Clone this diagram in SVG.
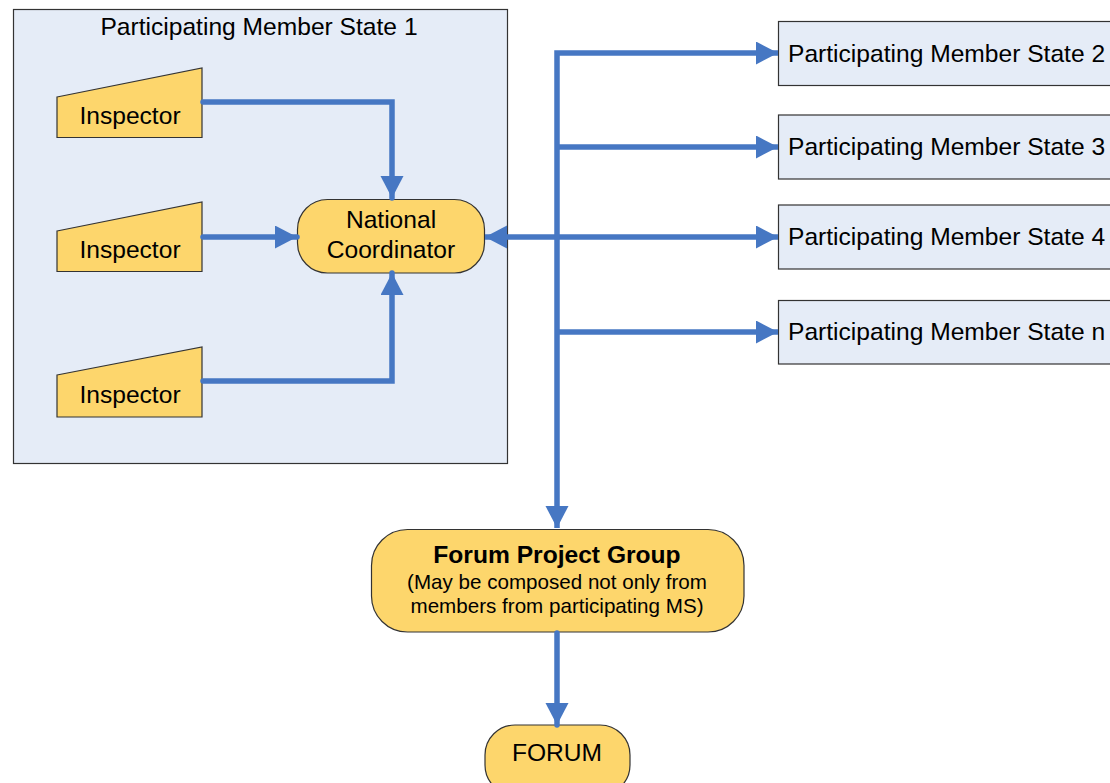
<svg xmlns="http://www.w3.org/2000/svg" width="1110" height="783" viewBox="0 0 1110 783">
<style>
text{font-family:"Liberation Sans",Arial,sans-serif;font-size:24.6px;fill:#000}
.c{text-anchor:middle}
.state{fill:#E5ECF7;stroke:#333;stroke-width:1.2}
.yel{fill:#FDD66C;stroke:#333;stroke-width:1.2}
.con{fill:none;stroke:#4677C3;stroke-width:5.5}
</style>
<defs>
<marker id="ah" markerUnits="userSpaceOnUse" markerWidth="24" markerHeight="24" viewBox="0 0 24 24" refX="22" refY="11.5" orient="auto-start-reverse">
<path d="M0,0 L22,11.5 L0,23 Z" fill="#4677C3"/>
</marker>
</defs>
<g id="pms1">
<rect class="state" x="13.5" y="9.5" width="494" height="454"/>
<text class="c" x="259" y="35">Participating Member State 1</text>
</g>
<g id="inspector1">
<polygon class="yel" points="57,97 202,68 202,137.5 57,137.5"/>
<text class="c" x="130" y="124">Inspector</text>
</g>
<g id="inspector2">
<polygon class="yel" points="57,231 202,202 202,271.5 57,271.5"/>
<text class="c" x="130" y="258">Inspector</text>
</g>
<g id="inspector3">
<polygon class="yel" points="57,375 202,347 202,417 57,417"/>
<text class="c" x="130" y="403">Inspector</text>
</g>
<g id="national-coordinator">
<rect class="yel" x="297.5" y="199.5" width="187" height="73.5" rx="30"/>
<text class="c" x="391" y="228">National</text>
<text class="c" x="391" y="258">Coordinator</text>
</g>
<g id="pms2">
<rect class="state" x="778.5" y="21.5" width="340" height="64"/>
<text x="788" y="62">Participating Member State 2</text>
</g>
<g id="pms3">
<rect class="state" x="778.5" y="115" width="340" height="64"/>
<text x="788" y="155">Participating Member State 3</text>
</g>
<g id="pms4">
<rect class="state" x="778.5" y="205" width="340" height="64"/>
<text x="788" y="245">Participating Member State 4</text>
</g>
<g id="pmsn">
<rect class="state" x="778.5" y="300.5" width="340" height="63.5"/>
<text x="788" y="340">Participating Member State n</text>
</g>
<g id="forum-project-group">
<rect class="yel" x="371.5" y="529.5" width="372.5" height="102.5" rx="36"/>
<text class="c" x="557" y="563" font-weight="bold">Forum Project Group</text>
<text class="c" x="557" y="589" style="font-size:20.6px">(May be composed not only from</text>
<text class="c" x="557" y="613" style="font-size:20.6px">members from participating MS)</text>
</g>
<g id="forum">
<rect class="yel" x="485" y="725" width="145" height="70" rx="30"/>
<text class="c" x="557" y="761">FORUM</text>
</g>
<g id="connectors">
<path class="con" stroke-linecap="round" d="M203,102 H392 V198" marker-end="url(#ah)"/>
<path class="con" stroke-linecap="round" d="M203,237 H297" marker-end="url(#ah)"/>
<path class="con" stroke-linecap="round" d="M203,381 H392 V273" marker-end="url(#ah)"/>
<path class="con" d="M485,237 H778" marker-start="url(#ah)" marker-end="url(#ah)"/>
<path class="con" d="M557,528 V53 H778" marker-start="url(#ah)" marker-end="url(#ah)"/>
<path class="con" d="M557,147 H778" marker-end="url(#ah)"/>
<path class="con" d="M557,332 H778" marker-end="url(#ah)"/>
<path class="con" stroke-linecap="round" d="M557,633 V725" marker-end="url(#ah)"/>
</g>
</svg>
